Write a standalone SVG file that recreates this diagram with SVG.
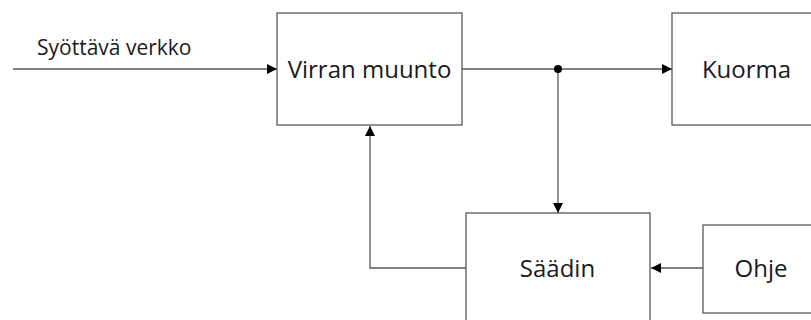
<svg xmlns="http://www.w3.org/2000/svg" width="811" height="320" viewBox="0 0 811 320">
  <style>
    .box { fill: #fff; stroke: #595959; stroke-width: 1.3; }
    .wire { fill: none; stroke: #595959; stroke-width: 1.3; }
    .label { font-family: "Open Sans", "Noto Sans", sans-serif; fill: #1a1a1a; }
    .big { font-size: 24px; text-anchor: middle; }
  </style>
  <defs>
    <marker id="arrow" viewBox="0 0 10 10" refX="10" refY="5" markerWidth="10" markerHeight="10" markerUnits="userSpaceOnUse" orient="auto">
      <path d="M0,0 L10,5 L0,10 Z" fill="#000"/>
    </marker>
  </defs>

  <rect width="811" height="320" fill="#fff"/>

  <g id="connectors">
    <line class="wire" x1="13" y1="69" x2="277" y2="69" marker-end="url(#arrow)"/>
    <line class="wire" x1="462" y1="69" x2="672" y2="69" marker-end="url(#arrow)"/>
    <line class="wire" x1="558" y1="69" x2="558" y2="213" marker-end="url(#arrow)"/>
    <polyline class="wire" points="466,268 370,268 370,126" marker-end="url(#arrow)"/>
    <line class="wire" x1="703" y1="268" x2="651" y2="268" marker-end="url(#arrow)"/>
    <circle cx="558" cy="69" r="4" fill="#000"/>
    <text class="label" x="37" y="55" font-size="21">Syöttävä verkko</text>
  </g>

  <g id="virran-muunto">
    <rect class="box" x="277" y="13" width="185" height="112"/>
    <text class="label big" x="369.5" y="78">Virran muunto</text>
  </g>

  <g id="kuorma">
    <rect class="box" x="672" y="13" width="160" height="112"/>
    <text class="label big" x="746.5" y="78">Kuorma</text>
  </g>

  <g id="saadin">
    <rect class="box" x="466" y="213" width="184" height="120"/>
    <text class="label big" x="557.5" y="277">Säädin</text>
  </g>

  <g id="ohje">
    <rect class="box" x="703" y="225" width="130" height="88"/>
    <text class="label big" x="761" y="277">Ohje</text>
  </g>
</svg>
